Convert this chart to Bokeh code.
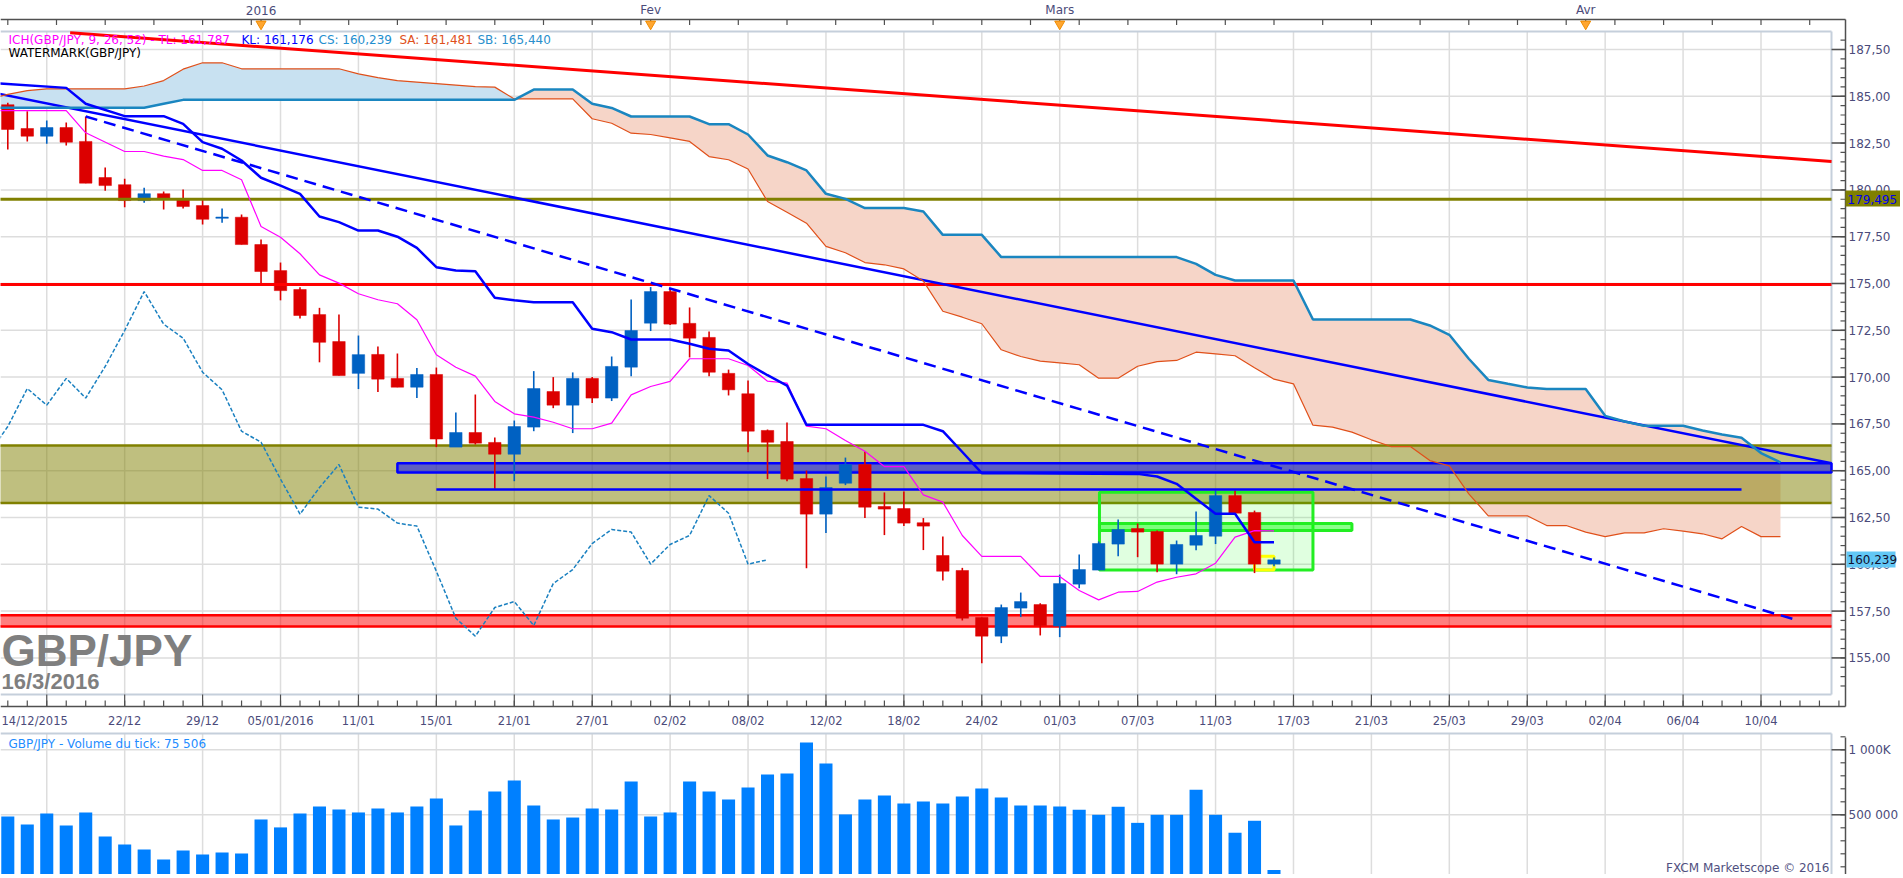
import numpy as np
from bokeh.plotting import figure
from bokeh.models import Range1d, ColumnDataSource
from bokeh.core.properties import value
from bokeh.embed import file_html
from bokeh.resources import INLINE

# ---------------- data ----------------
dates = ["14/12", "15/12", "16/12", "17/12", "18/12", "21/12", "22/12", "23/12", "24/12", "28/12", "29/12", "30/12", "31/12",
         "04/01", "05/01", "06/01", "07/01", "08/01", "11/01", "12/01", "13/01", "14/01", "15/01", "18/01", "19/01", "20/01",
         "21/01", "22/01", "25/01", "26/01", "27/01", "28/01", "29/01",
         "01/02", "02/02", "03/02", "04/02", "05/02", "08/02", "09/02", "10/02", "11/02", "12/02", "15/02", "16/02", "17/02",
         "18/02", "19/02", "22/02", "23/02", "24/02", "25/02", "26/02", "29/02",
         "01/03", "02/03", "03/03", "04/03", "07/03", "08/03", "09/03", "10/03", "11/03", "14/03", "15/03", "16/03"]

opens = [184.55, 183.28, 182.87, 183.33, 182.59, 180.66, 180.28, 179.43, 179.80, 179.52, 179.16, 178.48, 178.54,
         177.08, 175.69, 174.68, 173.34, 171.90, 170.20, 171.21, 169.93, 169.46, 170.14, 166.26, 167.04, 166.51,
         165.88, 167.33, 169.23, 168.50, 169.93, 168.88, 170.53,
         172.88, 174.57, 172.87, 172.12, 170.20, 169.11, 167.15, 166.56, 164.58, 162.68, 164.33, 165.33, 163.09,
         162.98, 162.22, 160.47, 159.67, 157.16, 156.16, 157.66, 157.85,
         156.70, 158.94, 159.69, 161.08, 161.91, 161.75, 160.01, 161.02, 161.50, 163.67, 162.77, 160.01]
highs = [184.65, 184.20, 183.71, 183.60, 183.92, 181.20, 180.60, 180.12, 179.91, 180.02, 179.52, 179.00, 178.68,
         177.35, 176.12, 174.80, 173.70, 173.34, 172.22, 171.64, 171.26, 170.48, 170.51, 168.11, 169.07, 166.78,
         167.68, 170.32, 170.00, 170.25, 170.00, 171.10, 174.15,
         174.81, 174.75, 173.72, 172.44, 170.40, 169.82, 167.20, 167.57, 165.01, 164.69, 165.70, 166.04, 163.84,
         163.89, 162.47, 161.49, 159.81, 157.16, 157.85, 158.49, 157.92,
         159.45, 160.52, 161.22, 162.39, 162.18, 161.81, 161.27, 162.82, 163.94, 163.94, 162.87, 160.36]
lows = [182.16, 182.59, 182.46, 182.37, 180.36, 179.96, 179.07, 179.32, 178.95, 179.00, 178.15, 178.25, 177.08,
        174.95, 174.10, 173.13, 170.79, 170.08, 169.36, 169.20, 169.46, 168.88, 166.26, 166.26, 166.40, 164.03,
        164.44, 167.11, 168.34, 167.01, 168.61, 168.72, 170.05,
        172.46, 172.78, 171.05, 170.05, 169.02, 165.99, 164.55, 164.44, 159.79, 161.67, 164.23, 162.47, 161.56,
        162.04, 160.76, 159.13, 157.00, 154.72, 155.79, 157.18, 156.20,
        156.11, 158.72, 159.69, 160.43, 160.38, 159.58, 159.47, 160.75, 161.08, 162.73, 159.53, 159.90]
closes = [183.23, 182.87, 183.33, 182.55, 180.36, 180.23, 179.43, 179.80, 179.57, 179.11, 178.43, 178.55, 177.08,
          175.64, 174.62, 173.29, 171.86, 170.08, 171.20, 169.89, 169.46, 170.14, 166.69, 167.04, 166.47, 165.88,
          167.36, 169.39, 168.50, 169.93, 168.88, 170.57, 172.49,
          174.57, 172.83, 172.08, 170.26, 169.32, 167.11, 166.52, 164.55, 162.68, 164.10, 165.33, 163.05, 162.95,
          162.20, 162.04, 159.63, 157.12, 156.16, 157.69, 158.01, 156.73,
          158.97, 159.72, 161.11, 161.86, 161.72, 160.01, 161.06, 161.54, 163.67, 162.73, 160.01, 160.239]
volumes = [487000, 426000, 510000, 418000, 518000, 333000, 272000, 233000, 156000, 226000, 195000, 210000, 203000,
           464000, 403000, 510000, 564000, 541000, 518000, 549000, 518000, 564000, 626000, 418000, 533000, 679000,
           764000, 572000, 464000, 479000, 549000, 541000, 756000,
           487000, 518000, 756000, 679000, 618000, 710000, 810000, 818000, 1056000, 895000, 503000, 618000, 649000,
           587000, 603000, 587000, 641000, 703000, 633000, 572000, 572000,
           564000, 538000, 500000, 562000, 438000, 500000, 500000, 692000, 500000, 362000, 454000, 75506]

# Ichimoku lines (bar index, price)
tenkan_x = [-1, 3, 4, 6, 7, 8, 9, 10, 11, 12, 13, 14, 15, 16, 17, 18, 19, 20, 21, 22, 23, 24, 25, 26, 27, 28, 29, 30,
            31, 32, 33, 34, 35, 36, 37, 38, 39, 40, 41, 42, 43, 44, 45, 46, 47, 48, 49, 50, 51, 52, 53, 54, 55, 56,
            57, 58, 59, 60, 61, 62, 63, 64, 65]
tenkan_y = [184.24, 184.24, 183.05, 182.05, 182.05, 181.80, 181.62, 181.04, 181.04, 180.54, 178.05, 177.47, 176.59,
            175.46, 175.02, 174.45, 174.13, 173.92, 173.06, 171.19, 170.53, 170.05, 168.70, 168.04, 167.86, 167.59,
            167.24, 167.24, 167.54, 169.05, 169.50, 169.77, 170.98, 170.98, 170.98, 170.62, 169.78, 169.68, 167.38,
            167.24, 166.61, 166.04, 165.22, 165.22, 163.71, 163.32, 161.54, 160.42, 160.42, 160.42, 159.35, 159.35,
            158.60, 158.10, 158.51, 158.55, 159.05, 159.31, 159.49, 160.06, 161.45, 161.80, 161.787]
kijun_x = [-1, 3, 4, 6, 8, 9, 10, 11, 12, 13, 14, 15, 16, 17, 18, 19, 20, 21, 22, 23, 24, 25, 26, 27, 29, 30, 31, 32,
           34, 35, 36, 37, 38, 39, 40, 41, 47, 48, 49, 50, 58, 59, 60, 61, 62, 63, 64, 65]
kijun_y = [185.72, 185.45, 184.60, 183.94, 183.94, 183.53, 182.55, 182.20, 181.57, 180.65, 180.23, 179.79, 178.58,
           178.28, 177.83, 177.83, 177.50, 176.90, 175.87, 175.70, 175.66, 174.24, 174.10, 174.00, 174.00, 172.58,
           172.40, 172.01, 172.01, 171.78, 171.51, 171.42, 170.70, 170.10, 169.55, 167.45, 167.45, 167.11, 166.00,
           164.87, 164.83, 164.69, 164.30, 163.50, 162.70, 162.70, 161.18, 161.176]
span_x = list(range(-1, 92))
senkou_a = [184.85, 185.10, 185.30, 185.40, 185.40, 185.40, 185.40, 185.40, 185.55, 185.84, 186.45, 186.79, 186.79,
            186.47, 186.47, 186.47, 186.47, 186.47, 186.47, 186.20, 186.00, 185.84, 185.76, 185.68, 185.60, 185.52,
            185.49, 184.86, 184.86, 184.86, 184.86, 183.80, 183.56, 183.03, 182.96, 182.78, 182.59, 181.78, 181.61,
            181.12, 179.38, 178.81, 178.22, 176.98, 176.64, 176.12, 176.00, 175.78, 175.13, 173.52, 173.20, 172.85,
            171.46, 171.10, 170.85, 170.76, 170.66, 169.94, 169.94, 170.58, 170.83, 170.89, 171.33, 171.24, 171.14,
            170.50, 169.89, 169.64, 167.43, 167.33, 167.06, 166.65, 166.29, 166.29, 165.54, 165.26, 163.76, 162.59,
            162.59, 162.59, 162.07, 162.07, 161.72, 161.48, 161.68, 161.68, 161.90, 161.77, 161.63, 161.36, 162.02,
            161.48, 161.481]
senkou_b = [184.39, 184.39, 184.39, 184.39, 184.39, 184.39, 184.39, 184.39, 184.39, 184.60, 184.81, 184.81, 184.81,
            184.81, 184.81, 184.81, 184.81, 184.81, 184.81, 184.81, 184.81, 184.81, 184.81, 184.81, 184.81, 184.81,
            184.81, 184.81, 185.36, 185.36, 185.36, 184.60, 184.38, 183.92, 183.92, 183.92, 183.92, 183.51, 183.51,
            182.96, 181.84, 181.48, 181.04, 179.79, 179.52, 179.03, 179.03, 179.03, 178.85, 177.60, 177.60, 177.60,
            176.41, 176.41, 176.41, 176.41, 176.41, 176.41, 176.41, 176.41, 176.41, 176.41, 176.05, 175.46, 175.16,
            175.16, 175.16, 175.16, 173.08, 173.08, 173.08, 173.08, 173.08, 173.08, 172.76, 172.26, 170.98, 169.85,
            169.64, 169.45, 169.36, 169.36, 169.36, 167.93, 167.63, 167.40, 167.40, 167.40, 167.15, 166.93, 166.76,
            165.94, 165.44]
chikou_shift = 26

# drawn levels / zones
olive_level = 179.495
red_level = 174.95
olive_zone = (163.27, 166.35)
red_zone = (156.68, 157.28)
blue_zone = (20.0, 164.90, 165.40)
blue_level = (22.0, 89.0, 164.00)
green_box = (56.04, 67.0, 159.69, 163.85)
green_band = (56.04, 69.0, 161.80, 162.18)
yellow_box = (64.0, 65.0, 159.70, 160.43)
red_trend_x, red_trend_y = [3.2, 93.62], [188.39, 181.52]
blue_trend_x, blue_trend_y = [-1.0, 93.62], [185.25, 165.40]
dash_trend_x, dash_trend_y = [4.0, 91.9], [183.92, 157.00]

bottom_tick_lab = ["14/12/2015", "22/12", "29/12", "05/01/2016", "11/01", "15/01", "21/01", "27/01", "02/02", "08/02",
                   "12/02", "18/02", "24/02", "01/03", "07/03", "11/03", "17/03", "21/03", "25/03", "29/03", "02/04",
                   "06/04", "10/04"]
grid_pos = list(range(2, 91, 4))
month_pos = [13, 33, 54, 81]
month_lab = ["2016", "Fev", "Mars", "Avr"]
price_ticks = [155 + 2.5 * k for k in range(14)]
price_lab = [("%.2f" % t).replace(".", ",") for t in price_ticks]
vol_ticks = [500000, 1000000]
vol_lab = ["500 000", "1 000K"]

legend_parts = ["ICH(GBP/JPY, 9, 26, 52) - TL: 161,787", "KL: 161,176", "CS: 160,239", "SA: 161,481", "SB: 165,440"]

# ---------------- geometry helpers (page pixels -> data) ----------------
PXB = 19.48                       # pixels per bar
W, H = 1900, 874


def px2i(px):
    return (px - 7.3) / PXB


def py2p(py):
    return 187.5 - (py - 49) / 18.72


def py2v(py):
    return (879.3 - py) / 130.0 * 1e6


X0, X1 = px2i(0), px2i(W)
XE, XA = px2i(1831), px2i(1845)   # light frame border / axis line
YT, YB = py2p(31), py2p(694)
FONT = "DejaVu Sans"
LABC = "#4b4b7a"
AXC = "#505050"
GRIDC = "#dddddd"
BORDC = "#c5cfdb"

p = figure(width=W, height=H, x_range=Range1d(X0, X1), y_range=Range1d(py2p(H), py2p(0)),
           output_backend="svg", toolbar_location=None, x_axis_location=None, y_axis_location=None,
           min_border=0, background_fill_color="white")
p.extra_y_ranges = {"vol": Range1d(py2v(H), py2v(0))}
p.outline_line_color = None
p.grid.visible = False


def txt(x, y, s, color, size="12px", align="left", baseline="middle", font=FONT, style="normal", yr="default"):
    p.text(x=list(x), y=list(y), text=list(s), text_color=color, text_font=value(font),
           text_font_size=value(size), text_font_style=style, text_align=align, text_baseline=baseline,
           y_range_name=yr)


def seg(x0, y0, x1, y1, color, width, yr="default", level="glyph", dash="solid"):
    p.segment(x0=list(x0), y0=list(y0), x1=list(x1), y1=list(y1), line_color=color, line_width=width,
              y_range_name=yr, level=level, line_dash=dash)


ng = len(grid_pos)
npt = len(price_ticks)
# ---- price panel: grid and light frame ----
seg(grid_pos, [YB] * ng, grid_pos, [YT] * ng, GRIDC, 1.5, level="underlay")
seg([X0] * npt, price_ticks, [XA] * npt, price_ticks, GRIDC, 1.5, level="underlay")
seg([X0, XE, X0], [YT, YB, YB], [XE, XE, XE], [YT, YT, YB], BORDC, 2, level="underlay")

# ---- Ichimoku cloud ----
sa = np.array(senkou_a)
sb = np.array(senkou_b)
ctop = np.maximum(sa, sb)
p.varea(x=span_x, y1=sb, y2=ctop, fill_color="#c8e1f1")
p.varea(x=span_x, y1=sa, y2=ctop, fill_color="#f6d5c8")

# ---- zones ----
p.quad(left=[-1, -1], right=[XE, XE], bottom=[olive_zone[0], red_zone[0]], top=[olive_zone[1], red_zone[1]],
       fill_color=["#808000", "#ff0000"], fill_alpha=0.5, line_color=None)
zl = [olive_zone[0], olive_zone[1], red_zone[0], red_zone[1]]
seg([-1] * 4, zl, [XE] * 4, zl, ["#808000", "#808000", "#ff0000", "#ff0000"], 2.5)
p.quad(left=[blue_zone[0]], right=[XE], bottom=[blue_zone[1]], top=[blue_zone[2]],
       fill_color="#0000ff", fill_alpha=0.5, line_color="#0000ff", line_width=2.5)
p.quad(left=[green_box[0]], right=[green_box[1]], bottom=[green_box[2]], top=[green_box[3]],
       fill_color="#00ff00", fill_alpha=0.12, line_color="#22ee22", line_width=3)
p.quad(left=[green_band[0]], right=[green_band[1]], bottom=[green_band[2]], top=[green_band[3]],
       fill_color="#00ff00", fill_alpha=0.45, line_color="#22ee22", line_width=3)
p.quad(left=[yellow_box[0]], right=[yellow_box[1]], bottom=[yellow_box[2]], top=[yellow_box[3]],
       fill_color="#ffff80", fill_alpha=0.35, line_color="#ffff00", line_width=3)

# ---- candles ----
idx = list(range(len(dates)))
ccol = ["#0061c2" if c >= o else "#dc0000" for o, c in zip(opens, closes)]
src = ColumnDataSource(dict(x=idx, o=opens, h=highs, l=lows, c=closes, col=ccol,
                            bt=[max(o, c) for o, c in zip(opens, closes)],
                            bb=[min(o, c) for o, c in zip(opens, closes)], d=dates))
p.segment(x0="x", y0="l", x1="x", y1="h", line_color="col", line_width=1.6, source=src)
p.vbar(x="x", width=0.64, top="bt", bottom="bb", fill_color="col", line_color="col", line_width=0.5, source=src)

# ---- levels and trend lines ----
seg([-1, -1], [olive_level, red_level], [XE, XE], [olive_level, red_level], ["#808000", "#ff0000"], 3)
p.line(red_trend_x, red_trend_y, line_color="#ff0000", line_width=3)
p.line(blue_trend_x, blue_trend_y, line_color="#0000ff", line_width=2.5)
p.line(dash_trend_x, dash_trend_y, line_color="#0000ff", line_width=2.5, line_dash="12 7")
p.line([blue_level[0], blue_level[1]], [blue_level[2], blue_level[2]], line_color="#0000ff", line_width=2.5)

# ---- Ichimoku lines ----
p.line(span_x, senkou_a, line_color="#e0501a", line_width=1.2)
p.line(span_x, senkou_b, line_color="#1a86c0", line_width=2.5)
chx = [i - chikou_shift for i in idx[chikou_shift - 1:]]
p.line(chx, closes[chikou_shift - 1:], line_color="#1a80c0", line_width=1.5, line_dash="4 2")
p.line(tenkan_x, tenkan_y, line_color="#ff00ff", line_width=1.2)
p.line(kijun_x, kijun_y, line_color="#0000ff", line_width=2.5)

# ---- right price axis ----
seg([XA], [py2p(19)], [XA], [py2p(706)], AXC, 1.5)
seg([XE] * npt, price_ticks, [XA] * npt, price_ticks, AXC, 1.5)
minor_p = [m for m in np.arange(153.5, 188.01, 0.5) if YB <= m <= YT]
seg([XA - 5 / PXB] * len(minor_p), minor_p, [XA] * len(minor_p), minor_p, AXC, 1.2)
txt([XA + 3 / PXB] * npt, price_ticks, price_lab, LABC)

# ---- bottom date axis ----
yb_line, yb_maj, yb_min = py2p(706), py2p(694), py2p(700)
seg([X0], [yb_line], [XA], [yb_line], AXC, 1.5)
seg(grid_pos, [yb_line] * ng, grid_pos, [yb_maj] * ng, AXC, 1.2)
minor_x = list(range(0, 95))
seg(minor_x, [yb_line] * len(minor_x), minor_x, [yb_min] * len(minor_x), AXC, 1.2)
txt([px2i(1)], [py2p(720)], bottom_tick_lab[:1], LABC, size="11.5px")
txt(grid_pos[1:], [py2p(720)] * (ng - 1), bottom_tick_lab[1:], LABC, size="11.5px", align="center")

# ---- top month axis ----
yt_line, yt_tick = py2p(19), py2p(24.5)
seg([X0], [yt_line], [XA], [yt_line], AXC, 1.5)
top_minor = list(np.arange(0.0, 94.3, 2.5)) + month_pos
seg(top_minor, [yt_line] * len(top_minor), top_minor, [yt_tick] * len(top_minor), AXC, 1.2)
p.scatter(x=month_pos, y=[py2p(23.5)] * len(month_pos), marker="inverted_triangle", size=10,
          fill_color="#ffa630", line_color="#f08c00")
txt(month_pos, [py2p(9.5)] * len(month_pos), month_lab, LABC, size="12px", align="center")

# ---- value boxes on the price axis ----
p.quad(left=[XA], right=[X1], bottom=[py2p(206)], top=[py2p(190)], fill_color="#808000", line_color=None)
txt([XA + 2 / PXB], [olive_level], ["179,495"], "#0000ee", size="12px")
p.quad(left=[XA + 0.05], right=[px2i(1895)], bottom=[py2p(567)], top=[py2p(551)], fill_color="#62c7f5",
       line_color=None)
txt([XA + 2 / PXB], [closes[-1]], ["160,239"], "#101030", size="12px")

# ---- texts in price panel ----
leg_x = [8, 241, 318, 399, 477]
leg_c = ["#ff00ff", "#0000ff", "#1f8fcf", "#e0501a", "#2a8fcc"]
for s, x, c in zip(legend_parts, leg_x, leg_c):
    txt([px2i(x)], [py2p(39.5)], [s], c)
txt([px2i(8)], [py2p(52.5)], ["WATERMARK(GBP/JPY)"], "#000000")
txt([px2i(1)], [py2p(650)], ["GBP/JPY"], "#7f7f7f", size="44px", baseline="alphabetic",
    font="Liberation Sans", style="bold")
txt([px2i(1)], [py2p(681)], ["16/3/2016"], "#7f7f7f", size="22px", baseline="alphabetic",
    font="Liberation Sans", style="bold")

# ---------------- volume panel ----------------
v_top, v_bot = py2v(733), py2v(H)
seg(grid_pos, [v_bot] * ng, grid_pos, [v_top] * ng, GRIDC, 1.5, yr="vol", level="underlay")
seg([X0, X0], vol_ticks, [XE, XE], vol_ticks, GRIDC, 1.5, yr="vol", level="underlay")
seg([X0, XE], [v_top, v_bot], [XE, XE], [v_top, v_top], BORDC, 2, yr="vol", level="underlay")
p.vbar(x=idx, width=0.67, top=volumes, bottom=0, fill_color="#0080ff", line_color=None, y_range_name="vol")
seg([XA], [py2v(737)], [XA], [v_bot], AXC, 1.5, yr="vol")
seg([XE, XE], vol_ticks, [XA, XA], vol_ticks, AXC, 1.5, yr="vol")
vminor = list(range(100000, 1100001, 100000))
seg([XA - 5 / PXB] * len(vminor), vminor, [XA] * len(vminor), vminor, AXC, 1.2, yr="vol")
txt([XA + 3 / PXB] * 2, vol_ticks, vol_lab, LABC, size="12px", yr="vol")
txt([px2i(8)], [py2v(743)], ["GBP/JPY - Volume du tick: 75 506"], "#1e8cff", yr="vol")
txt([px2i(1829)], [py2v(867)], ["FXCM Marketscope \u00a9 2016"], "#505080", align="right", yr="vol")

open("out.html", "w").write(file_html(p, INLINE))
